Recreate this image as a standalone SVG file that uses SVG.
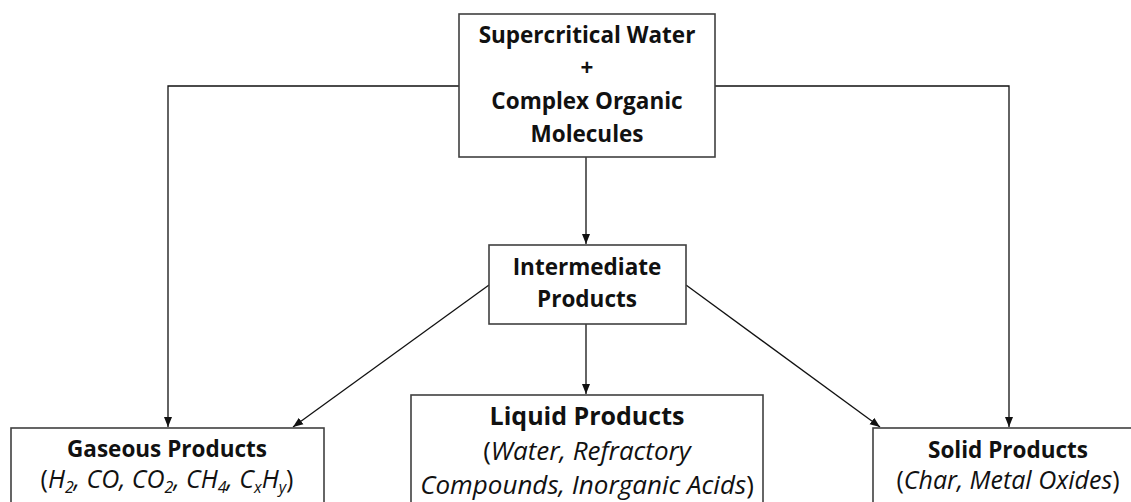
<svg xmlns="http://www.w3.org/2000/svg" width="1131" height="502" viewBox="0 0 1131 502">
<style>
.box{fill:#fff;stroke:#404040;stroke-width:1.6}
.t{font-family:"Open Sans",Lato,"Liberation Sans",sans-serif;font-size:22.5px;fill:#111;text-anchor:middle}
.b{font-weight:bold}
.r{font-size:25px}
.lb{font-size:25px}
.lr{font-size:26px}
.i{font-style:italic}
.s{font-size:16px}
.c{fill:none;stroke:#111;stroke-width:1.3}
</style>
<defs>
<marker id="ah" viewBox="0 0 10 10" refX="10" refY="5" markerWidth="10" markerHeight="10" markerUnits="userSpaceOnUse" orient="auto">
<path d="M0,1 L10,5 L0,9 z" fill="#111"/>
</marker>
</defs>
<rect width="1131" height="502" fill="#fff"/>
<g id="connectors">
<path class="c" d="M459,86 H168 V427" marker-end="url(#ah)"/>
<path class="c" d="M715,86 H1009 V427" marker-end="url(#ah)"/>
<path class="c" d="M586,157 V244" marker-end="url(#ah)"/>
<path class="c" d="M586,324 V394" marker-end="url(#ah)"/>
<path class="c" d="M489,285 L293,427" marker-end="url(#ah)"/>
<path class="c" d="M686,285 L880,427" marker-end="url(#ah)"/>
</g>
<g id="top">
<rect class="box" x="459" y="14" width="256" height="143"/>
<text class="t b" x="587" y="43">Supercritical Water</text>
<text class="t b" x="587" y="76">+</text>
<text class="t b" x="587" y="109">Complex Organic</text>
<text class="t b" x="587" y="142">Molecules</text>
</g>
<g id="intermediate">
<rect class="box" x="489" y="245" width="197" height="79"/>
<text class="t b" x="587" y="275">Intermediate</text>
<text class="t b" x="587" y="307">Products</text>
</g>
<g id="gaseous">
<rect class="box" x="11" y="428" width="313" height="90"/>
<text class="t b" x="167" y="457">Gaseous Products</text>
<text class="t r" x="167" y="488">(<tspan class="i">H</tspan><tspan class="i s" dy="5">2</tspan><tspan class="i" dy="-5">, CO, CO</tspan><tspan class="i s" dy="5">2</tspan><tspan class="i" dy="-5">, CH</tspan><tspan class="i s" dy="5">4</tspan><tspan class="i" dy="-5">, C</tspan><tspan class="i s" dy="5">x</tspan><tspan class="i" dy="-5">H</tspan><tspan class="i s" dy="5">y</tspan><tspan dy="-5">)</tspan></text>
</g>
<g id="liquid">
<rect class="box" x="411" y="395" width="352" height="120"/>
<text class="t b lb" x="587" y="425">Liquid Products</text>
<text class="t lr" x="587" y="460">(<tspan class="i">Water, Refractory</tspan></text>
<text class="t lr" x="587" y="494"><tspan class="i">Compounds, Inorganic Acids</tspan>)</text>
</g>
<g id="solid">
<rect class="box" x="873" y="428" width="270" height="90"/>
<text class="t b" x="1008" y="458">Solid Products</text>
<text class="t r" x="1008" y="489">(<tspan class="i">Char, Metal Oxides</tspan>)</text>
</g>
</svg>
